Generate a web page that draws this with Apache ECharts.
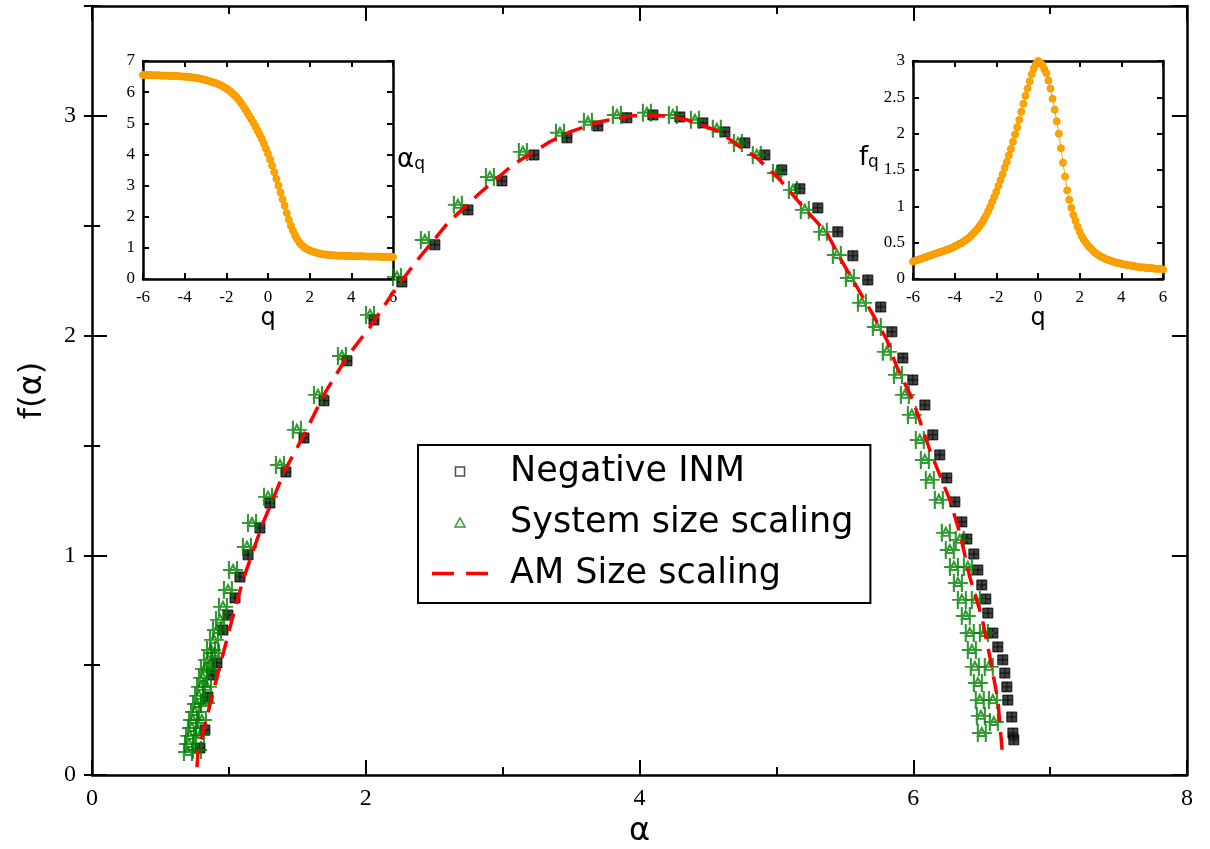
<!DOCTYPE html>
<html>
<head>
<meta charset="utf-8">
<script src="https://cdn.jsdelivr.net/npm/echarts@6/dist/echarts.min.js"></script>
<style>
  html, body { margin: 0; padding: 0; background: #fff; }
  #chart { width: 1210px; height: 849px; }
</style>
</head>
<body>
<div id="chart"></div>
<script>
// Main panel: f(alpha) vs alpha
const inmAlpha = [0.789, 0.825, 0.847, 0.884, 0.913, 0.957, 0.993, 1.045, 1.081, 1.140, 1.227, 1.300, 1.417, 1.549, 1.695,
  1.863, 2.060, 2.264, 2.505, 2.747, 2.995, 3.229, 3.470, 3.696, 3.908, 4.098, 4.295, 4.463, 4.624, 4.770, 4.916, 5.040,
  5.172, 5.303, 5.449, 5.559, 5.668, 5.763, 5.844, 5.924, 5.997, 6.085, 6.143, 6.194, 6.245, 6.304, 6.355, 6.392, 6.443,
  6.472, 6.501, 6.530, 6.545, 6.582, 6.618, 6.654, 6.669, 6.684, 6.691, 6.720, 6.728, 6.735];
const inmF = [0.123, 0.205, 0.355, 0.455, 0.510, 0.660, 0.728, 0.806, 0.901, 1.002, 1.124, 1.238, 1.379, 1.534, 1.703,
  1.885, 2.071, 2.244, 2.413, 2.572, 2.704, 2.822, 2.900, 2.954, 2.991, 3.004, 2.995, 2.968, 2.927, 2.877, 2.822, 2.754,
  2.668, 2.581, 2.472, 2.363, 2.253, 2.130, 2.017, 1.898, 1.798, 1.684, 1.548, 1.457, 1.352, 1.243, 1.152, 1.074, 1.006,
  0.933, 0.865, 0.801, 0.737, 0.646, 0.583, 0.524, 0.464, 0.401, 0.341, 0.264, 0.191, 0.160];

const sysAlpha = [0.701, 0.709, 0.716, 0.730, 0.738, 0.752, 0.767, 0.782, 0.796, 0.811, 0.825, 0.847, 0.869, 0.891, 0.913,
  0.935, 0.767, 0.789, 0.803, 0.825, 0.840, 0.869, 0.898, 0.957, 0.993, 1.030, 1.132, 1.169, 1.286, 1.373, 1.497, 1.651,
  1.826, 2.031, 2.228, 2.432, 2.673, 2.907, 3.148, 3.419, 3.623, 3.835, 4.054, 4.244, 4.405, 4.565, 4.719, 4.857, 5.004,
  5.121, 5.208, 5.340, 5.442, 5.537, 5.625, 5.734, 5.807, 5.888, 5.939, 5.990, 6.048, 6.085, 6.121, 6.187, 6.238, 6.267,
  6.297, 6.326, 6.355, 6.384, 6.413, 6.428, 6.450, 6.472, 6.486, 6.494, 6.501, 6.340, 6.399, 6.457, 6.516, 6.552, 6.582,
  6.589];
const sysF = [0.105, 0.141, 0.178, 0.214, 0.250, 0.287, 0.323, 0.360, 0.401, 0.442, 0.483, 0.524, 0.569, 0.615, 0.660,
  0.706, 0.114, 0.182, 0.250, 0.328, 0.401, 0.478, 0.555, 0.765, 0.842, 0.933, 1.038, 1.147, 1.266, 1.411, 1.571, 1.730,
  1.907, 2.094, 2.267, 2.435, 2.595, 2.722, 2.836, 2.923, 2.973, 3.004, 3.014, 3.004, 2.982, 2.941, 2.877, 2.822, 2.740,
  2.663, 2.572, 2.472, 2.367, 2.262, 2.149, 2.039, 1.926, 1.821, 1.730, 1.639, 1.525, 1.434, 1.343, 1.252, 1.102, 1.024,
  0.947, 0.874, 0.797, 0.724, 0.646, 0.569, 0.492, 0.419, 0.341, 0.269, 0.191, 1.070, 0.947, 0.797, 0.646, 0.492, 0.341,
  0.241];

const amAlpha = [0.767, 0.774, 0.825, 0.898, 1.023, 1.103, 1.249, 1.410, 1.541, 1.702, 1.863, 2.031, 2.228, 2.396, 2.600,
  2.834, 3.075, 3.345, 3.492, 3.711, 3.952, 4.149, 4.346, 4.587, 4.733, 4.857, 5.026, 5.194, 5.369, 5.464, 5.588, 5.698,
  5.807, 5.880, 5.997, 6.121, 6.267, 6.340, 6.413, 6.501, 6.560, 6.618, 6.654];
const amF = [0.036, 0.100, 0.228, 0.410, 0.706, 0.888, 1.147, 1.388, 1.539, 1.739, 1.903, 2.039, 2.222, 2.358, 2.513,
  2.649, 2.777, 2.882, 2.927, 2.973, 3.000, 3.002, 2.982, 2.927, 2.859, 2.809, 2.709, 2.586, 2.467, 2.354, 2.222, 2.103,
  1.980, 1.857, 1.707, 1.479, 1.252, 1.102, 0.901, 0.719, 0.537, 0.341, 0.082];

// Insets: alpha_q and f_q vs q (q from -6 to 6 in steps of 0.1)
const qValues = [
  -6.0, -5.9, -5.8, -5.7, -5.6, -5.5, -5.4, -5.3, -5.2, -5.1,
  -5.0, -4.9, -4.8, -4.7, -4.6, -4.5, -4.4, -4.3, -4.2, -4.1,
  -4.0, -3.9, -3.8, -3.7, -3.6, -3.5, -3.4, -3.3, -3.2, -3.1,
  -3.0, -2.9, -2.8, -2.7, -2.6, -2.5, -2.4, -2.3, -2.2, -2.1,
  -2.0, -1.9, -1.8, -1.7, -1.6, -1.5, -1.4, -1.3, -1.2, -1.1,
  -1.0, -0.9, -0.8, -0.7, -0.6, -0.5, -0.4, -0.3, -0.2, -0.1,
  0.0, 0.1, 0.2, 0.3, 0.4, 0.5, 0.6, 0.7, 0.8, 0.9,
  1.0, 1.1, 1.2, 1.3, 1.4, 1.5, 1.6, 1.7, 1.8, 1.9,
  2.0, 2.1, 2.2, 2.3, 2.4, 2.5, 2.6, 2.7, 2.8, 2.9,
  3.0, 3.1, 3.2, 3.3, 3.4, 3.5, 3.6, 3.7, 3.8, 3.9,
  4.0, 4.1, 4.2, 4.3, 4.4, 4.5, 4.6, 4.7, 4.8, 4.9,
  5.0, 5.1, 5.2, 5.3, 5.4, 5.5, 5.6, 5.7, 5.8, 5.9,
  6.0];
const alphaQ = [
  6.55, 6.55, 6.55, 6.55, 6.55, 6.54, 6.54, 6.54, 6.54, 6.53,
  6.53, 6.53, 6.53, 6.52, 6.52, 6.52, 6.52, 6.51, 6.51, 6.50,
  6.50, 6.49, 6.49, 6.48, 6.47, 6.46, 6.45, 6.44, 6.42, 6.41,
  6.39, 6.37, 6.35, 6.33, 6.31, 6.29, 6.26, 6.23, 6.20, 6.16,
  6.12, 6.07, 6.02, 5.96, 5.90, 5.83, 5.75, 5.66, 5.56, 5.46,
  5.35, 5.24, 5.13, 5.02, 4.90, 4.77, 4.64, 4.50, 4.35, 4.19,
  4.02, 3.84, 3.64, 3.43, 3.22, 3.00, 2.78, 2.56, 2.35, 2.12,
  1.90, 1.71, 1.55, 1.40, 1.28, 1.18, 1.10, 1.04, 0.99, 0.95,
  0.92, 0.89, 0.87, 0.85, 0.83, 0.81, 0.80, 0.79, 0.78, 0.77,
  0.77, 0.76, 0.76, 0.75, 0.75, 0.75, 0.75, 0.74, 0.74, 0.74,
  0.74, 0.73, 0.73, 0.73, 0.73, 0.73, 0.73, 0.72, 0.72, 0.72,
  0.72, 0.72, 0.72, 0.72, 0.71, 0.71, 0.71, 0.71, 0.71, 0.71,
  0.71];
const fQ = [
  0.24, 0.25, 0.26, 0.27, 0.28, 0.29, 0.30, 0.31, 0.32, 0.33,
  0.34, 0.35, 0.36, 0.37, 0.38, 0.39, 0.40, 0.41, 0.42, 0.43,
  0.45, 0.46, 0.48, 0.49, 0.51, 0.53, 0.55, 0.57, 0.60, 0.63,
  0.66, 0.69, 0.73, 0.77, 0.82, 0.87, 0.93, 0.99, 1.06, 1.13,
  1.20, 1.28, 1.36, 1.44, 1.53, 1.61, 1.70, 1.79, 1.89, 1.99,
  2.09, 2.19, 2.30, 2.41, 2.52, 2.62, 2.72, 2.82, 2.90, 2.96,
  3.00, 2.98, 2.95, 2.89, 2.83, 2.73, 2.62, 2.48, 2.33, 2.17,
  2.00, 1.80, 1.60, 1.41, 1.22, 1.09, 0.98, 0.88, 0.80, 0.72,
  0.65, 0.59, 0.54, 0.50, 0.46, 0.43, 0.40, 0.37, 0.35, 0.33,
  0.31, 0.30, 0.28, 0.27, 0.26, 0.25, 0.24, 0.23, 0.22, 0.22,
  0.21, 0.20, 0.20, 0.19, 0.19, 0.18, 0.18, 0.17, 0.17, 0.16,
  0.16, 0.16, 0.15, 0.15, 0.15, 0.15, 0.14, 0.14, 0.14, 0.14,
  0.13];

const SERIF = 'Liberation Serif';
const SANS = 'DejaVu Sans';
const GREEN = '#008000';
const ORANGE = '#ffa500';

const zip = (xs, ys) => xs.map((x, i) => [x, ys[i]]);

// square with error-bar cross, and triangle with x/y error bars
const INM_SYMBOL = 'path://M0 0L10 0L10 10L0 10ZM5 0L5 10M0 5L10 5';
const SYS_SYMBOL = 'path://M0 9L20 9M6 0L6 18M14 0L14 18M10 4L14 12L6 12Z';

function makeAxis(gridIndex, position, min, max, interval, tickLen, label, extra) {
  return Object.assign({
    type: 'value',
    gridIndex: gridIndex,
    position: position,
    min: min,
    max: max,
    interval: interval,
    axisLine: { show: true, onZero: false, lineStyle: { color: '#000', width: 2.5 } },
    axisTick: { show: true, inside: true, length: tickLen, lineStyle: { color: '#000', width: 2 } },
    axisLabel: label ? Object.assign({ color: '#000' }, label) : { show: false },
    splitLine: { show: false },
  }, extra || {});
}

const mainLabel = { fontFamily: SERIF, fontSize: 24 };
const insetLabel = { fontFamily: SERIF, fontSize: 17 };
const minorX = { show: true, splitNumber: 2, length: 8, lineStyle: { color: '#000', width: 2 } };
const subRich = {
  a: { fontFamily: SANS, fontSize: 26, lineHeight: 26, color: '#000', verticalAlign: 'top' },
  s: { fontFamily: SANS, fontSize: 17, lineHeight: 17, color: '#000', verticalAlign: 'bottom', padding: [12, 0, 0, 0] },
};
const qName = { name: 'q', nameLocation: 'middle', nameGap: 27, nameTextStyle: { fontFamily: SANS, fontSize: 24, color: '#000' } };

const chart = echarts.init(document.getElementById('chart'));

const option = {
  animation: false,
  backgroundColor: '#fff',
  grid: [
    { left: 92, top: 6, width: 1095, height: 769, outerBoundsMode: 'none' },
    { left: 143, top: 61, width: 250, height: 218, show: true, backgroundColor: '#fff', borderWidth: 0, outerBoundsMode: 'none' },
    { left: 913, top: 61, width: 250, height: 218, show: true, backgroundColor: '#fff', borderWidth: 0, outerBoundsMode: 'none' },
  ],
  xAxis: [
    makeAxis(0, 'bottom', 0, 8, 2, 15, Object.assign({ margin: 12 }, mainLabel), {
      minorTick: minorX,
      name: 'α', nameLocation: 'middle', nameGap: 36,
      nameTextStyle: { fontFamily: SANS, fontSize: 32, color: '#000' },
    }),
    makeAxis(0, 'top', 0, 8, 2, 15, null, { minorTick: minorX }),
    makeAxis(1, 'bottom', -6, 6, 2, 6, Object.assign({ margin: 10 }, insetLabel), qName),
    makeAxis(1, 'top', -6, 6, 2, 6, null),
    makeAxis(2, 'bottom', -6, 6, 2, 6, Object.assign({ margin: 10 }, insetLabel), qName),
    makeAxis(2, 'top', -6, 6, 2, 6, null),
  ],
  yAxis: [
    makeAxis(0, 'left', 0, 3.5, 1, 15, Object.assign({ margin: 16, showMaxLabel: false }, mainLabel), {
      name: 'f(α)', nameLocation: 'middle', nameGap: 43, nameRotate: 90,
      nameTextStyle: { fontFamily: SANS, fontSize: 32, color: '#000' },
    }),
    makeAxis(0, 'left', 0, 3.5, 0.5, 8, null, { axisLine: { show: false } }),
    makeAxis(0, 'right', 0, 3.5, 1, 15, null),
    makeAxis(0, 'right', 0, 3.5, 0.5, 8, null, { axisLine: { show: false } }),
    makeAxis(1, 'left', 0, 7, 1, 6, Object.assign({ margin: 8 }, insetLabel)),
    makeAxis(1, 'right', 0, 7, 1, 6, null, {
      name: '{a|α}{s|q}', nameLocation: 'middle', nameRotate: 0, nameGap: 4,
      nameTextStyle: { rich: subRich, padding: [0, 0, 20, 0] },
    }),
    makeAxis(2, 'left', 0, 3, 0.5, 6, Object.assign({ margin: 8 }, insetLabel), {
      name: '{a|f}{s|q}', nameLocation: 'middle', nameRotate: 0, nameGap: 33,
      nameTextStyle: { rich: subRich, padding: [0, 0, 24, 0] },
    }),
    makeAxis(2, 'right', 0, 3, 0.5, 6, null),
  ],
  legend: {
    orient: 'vertical',
    left: 418,
    top: 445,
    padding: [9, 17, 12, 14],
    itemWidth: 56,
    itemHeight: 9,
    itemGap: 16,
    selectedMode: false,
    borderColor: '#000',
    borderWidth: 2,
    backgroundColor: '#fff',
    textStyle: { fontFamily: SANS, fontSize: 35, color: '#000', padding: [0, 0, 0, 17] },
    data: [
      { name: 'Negative INM', icon: 'path://M0 0L10 0L10 10L0 10Z', itemStyle: { color: '#fff', borderColor: '#222', borderWidth: 1.5 } },
      { name: 'System size scaling', icon: 'path://M5 0L10 9L0 9Z', itemStyle: { color: '#fff', borderColor: GREEN, borderWidth: 1.5 } },
      { name: 'AM Size scaling', icon: 'path://M0 0L22 0L22 3.5L0 3.5ZM34 0L56 0L56 3.5L34 3.5Z', itemStyle: { color: '#ff0000', borderWidth: 0 } },
    ],
  },
  series: [
    {
      name: 'Negative INM',
      type: 'scatter',
      xAxisIndex: 0,
      yAxisIndex: 0,
      data: zip(inmAlpha, inmF),
      symbol: INM_SYMBOL,
      symbolSize: [10, 10],
      itemStyle: { color: '#111', borderColor: '#000', borderWidth: 1 },
      emphasis: { disabled: true },
      z: 2,
    },
    {
      name: 'System size scaling',
      type: 'scatter',
      xAxisIndex: 0,
      yAxisIndex: 0,
      data: zip(sysAlpha, sysF),
      symbol: SYS_SYMBOL,
      symbolSize: [20, 18],
      itemStyle: { color: 'rgba(0,0,0,0)', borderColor: GREEN, borderWidth: 2 },
      emphasis: { disabled: true },
      z: 3,
    },
    {
      name: 'AM Size scaling',
      type: 'line',
      xAxisIndex: 0,
      yAxisIndex: 0,
      data: zip(amAlpha, amF),
      symbol: 'none',
      lineStyle: { color: '#ff0000', width: 3.5, type: [18, 10] },
      itemStyle: { color: '#ff0000' },
      emphasis: { disabled: true },
      z: 4,
    },
    {
      type: 'line',
      xAxisIndex: 2,
      yAxisIndex: 4,
      data: zip(qValues, alphaQ),
      symbol: 'circle',
      symbolSize: 7,
      showSymbol: true,
      itemStyle: { color: ORANGE, borderColor: '#f59b00', borderWidth: 1 },
      lineStyle: { color: ORANGE, width: 1 },
      emphasis: { disabled: true },
    },
    {
      type: 'line',
      xAxisIndex: 4,
      yAxisIndex: 6,
      data: zip(qValues, fQ),
      symbol: 'circle',
      symbolSize: 7,
      showSymbol: true,
      itemStyle: { color: ORANGE, borderColor: '#f59b00', borderWidth: 1 },
      lineStyle: { color: ORANGE, width: 1 },
      emphasis: { disabled: true },
    },
  ],
};

chart.setOption(option);
window.addEventListener('resize', () => chart.resize());
</script>
</body>
</html>
